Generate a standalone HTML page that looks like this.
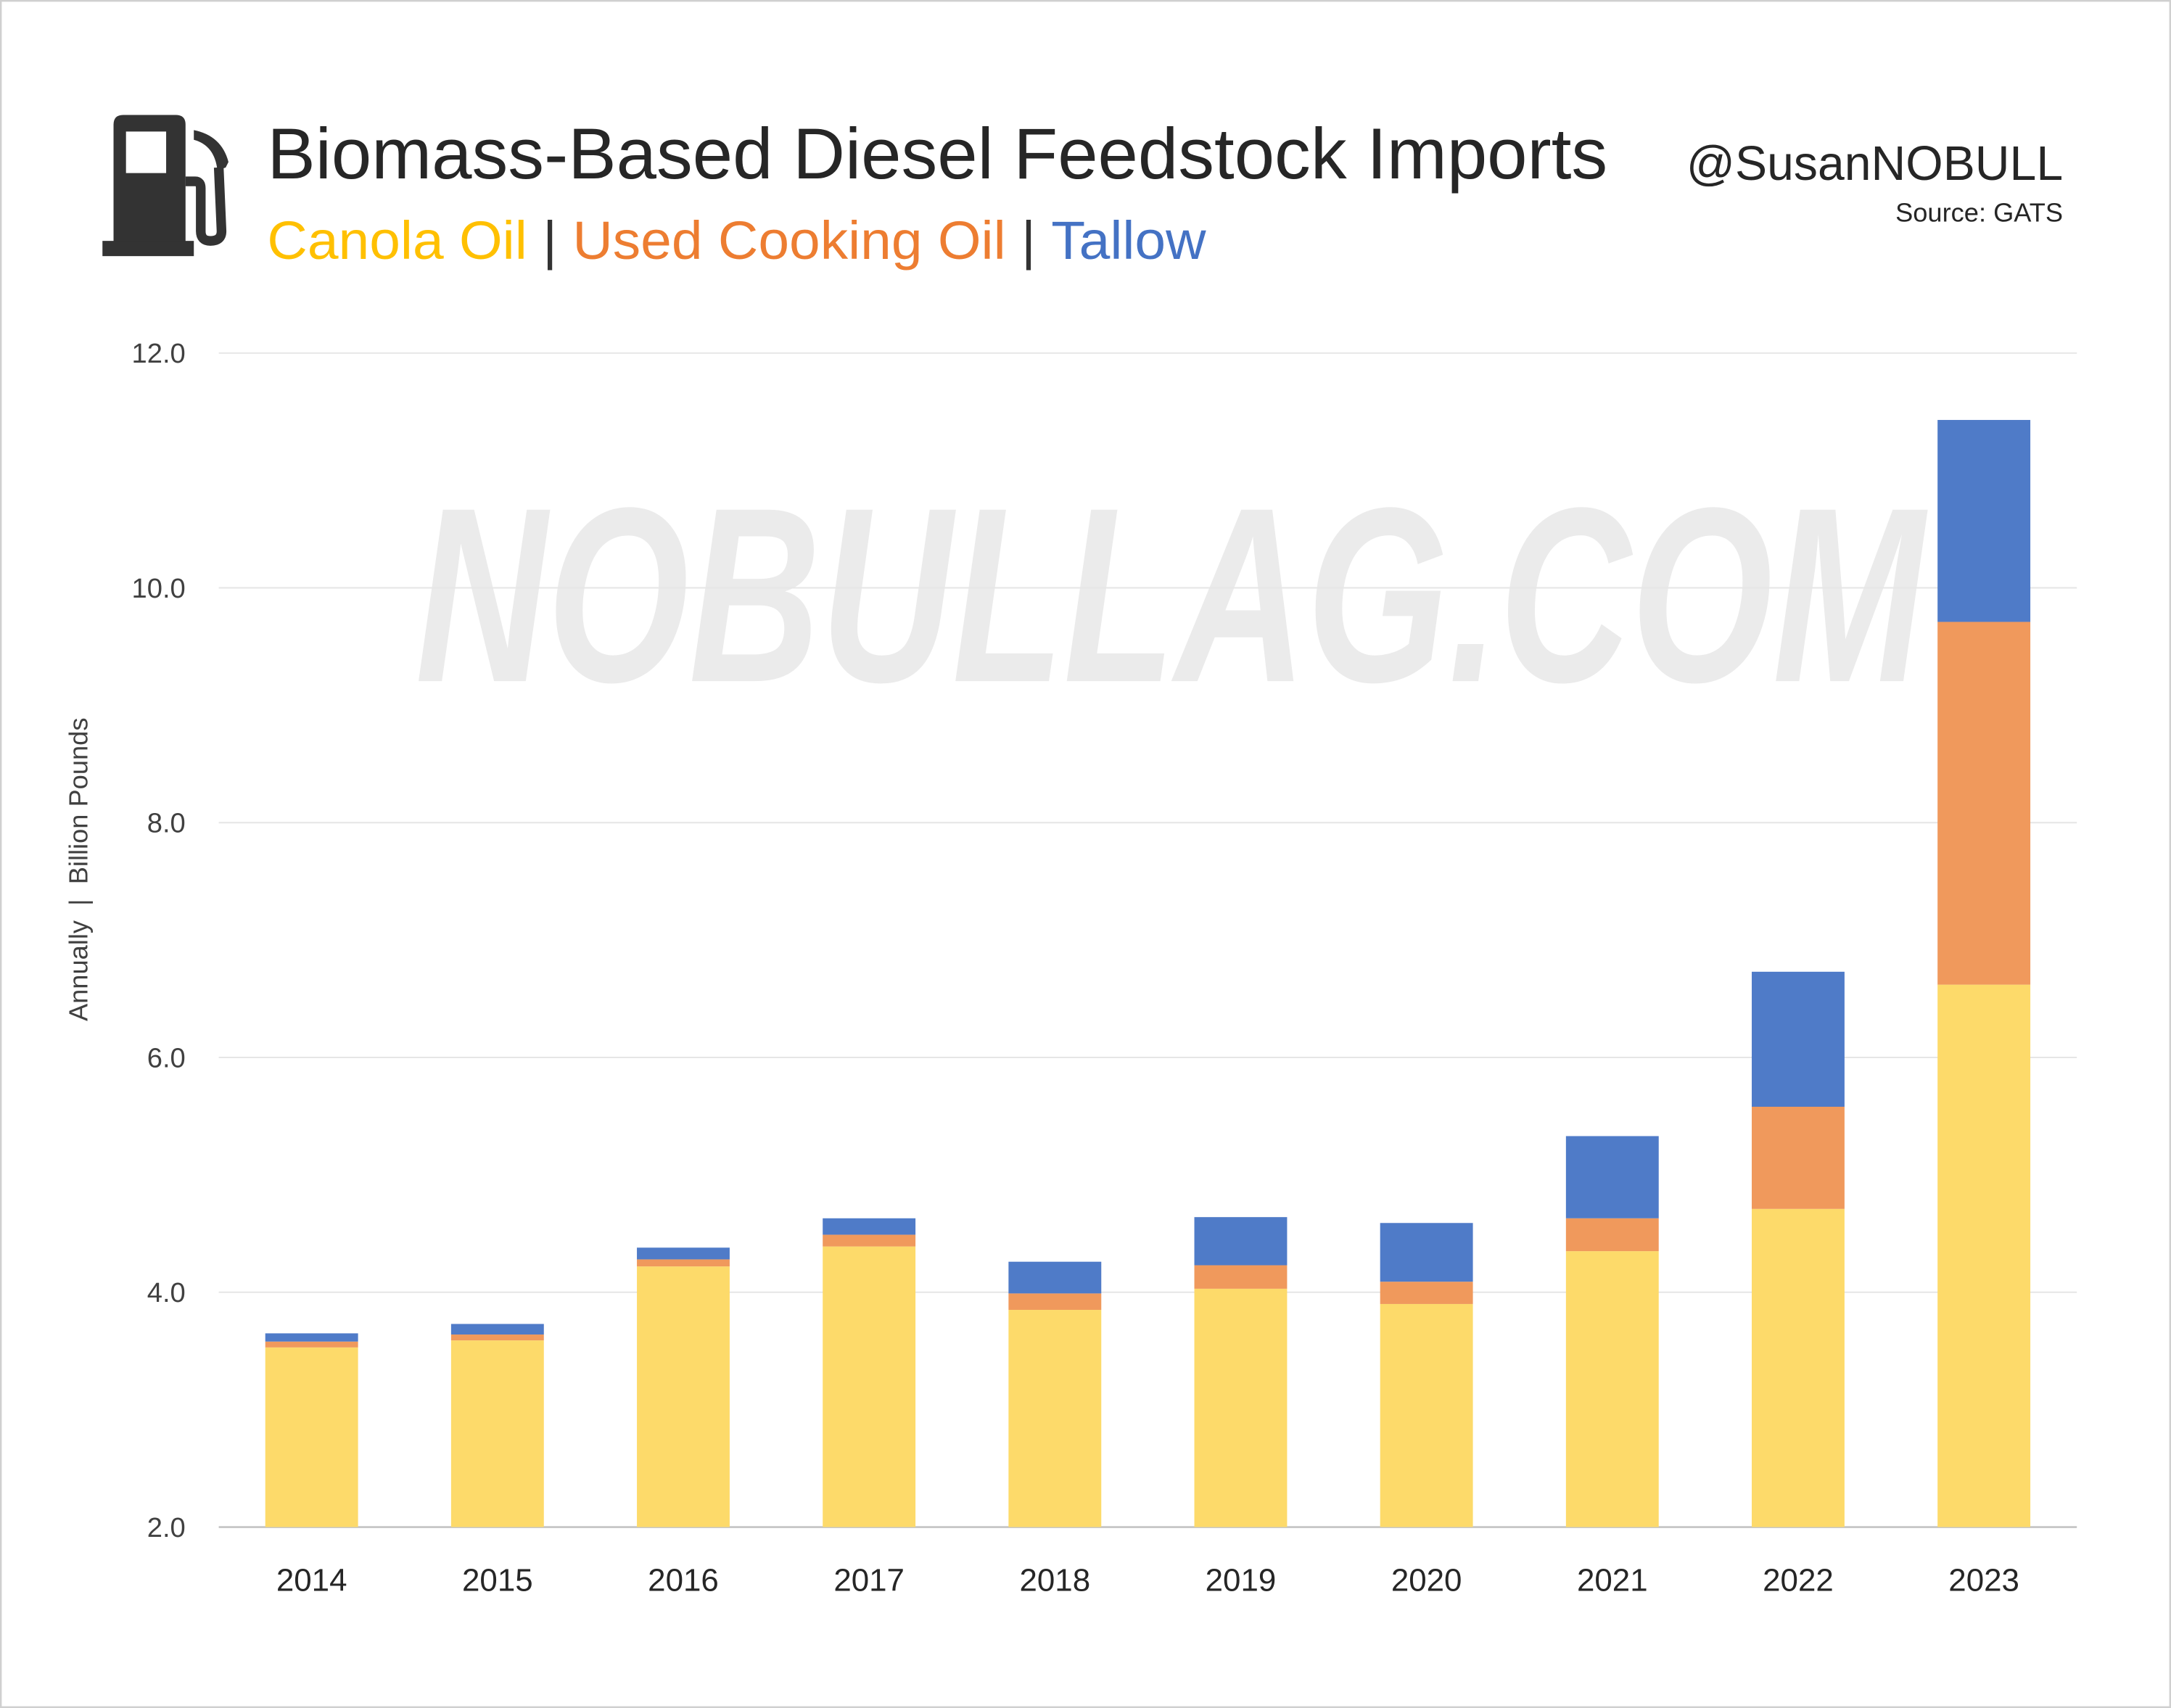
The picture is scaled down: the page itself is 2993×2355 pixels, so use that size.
<!DOCTYPE html>
<html><head><meta charset="utf-8">
<style>
html,body{margin:0;padding:0;background:#fff;}
svg{display:block;}
text{font-family:"Liberation Sans",sans-serif;}
</style></head>
<body>
<svg id="chart" width="2993" height="2355" viewBox="0 0 1568 1233.7" preserveAspectRatio="none" xmlns="http://www.w3.org/2000/svg">
<rect x="0.5" y="0.5" width="1567" height="1232.7" fill="#fff" stroke="#d0d0d0" stroke-width="1.5"/>
<g fill="#333">
  <path d="M82,90 Q82,83 89,83 L127,83 Q134,83 134,90 L134,176 L82,176 Z M91,95 L91,125 L120,125 L120,95 Z" fill-rule="evenodd"/>
  <rect x="74" y="174" width="66" height="11"/>
  <path d="M140,94 Q160,98 165,117 L163,121 L157,123 Q155,105 140,101 Z"/>
  <path d="M134,131 L141,131 Q145,131 145,136 L145,167 Q145,174 152,174 Q160,174 160,167 L158,121" fill="none" stroke="#333" stroke-width="7"/>
</g>
<text x="193" y="129" font-size="52" fill="#262626" textLength="968" lengthAdjust="spacingAndGlyphs">Biomass-Based Diesel Feedstock Imports</text>
<text x="193" y="187" font-size="39" textLength="678" lengthAdjust="spacingAndGlyphs"><tspan fill="#FFC000">Canola Oil</tspan><tspan fill="#333"> | </tspan><tspan fill="#ED7D31">Used Cooking Oil</tspan><tspan fill="#333"> | </tspan><tspan fill="#4472C4">Tallow</tspan></text>
<text x="1490" y="130" font-size="35" fill="#262626" text-anchor="end" textLength="272" lengthAdjust="spacingAndGlyphs">@SusanNOBULL</text>
<text x="1490" y="160" font-size="19" fill="#262626" text-anchor="end">Source: GATS</text>
<text x="300" y="492" font-size="180" font-weight="bold" font-style="italic" fill="#ebebeb" textLength="1090" lengthAdjust="spacingAndGlyphs">NOBULLAG.COM</text>
<text transform="translate(63,628) rotate(-90)" font-size="19" fill="#404040" text-anchor="middle" xml:space="preserve">Annually  |  Billion Pounds</text>
<g id="grid"></g><g id="bars"></g><g id="labels"></g>
</svg>
<script>
const years=["2014","2015","2016","2017","2018","2019","2020","2021","2022","2023"];
const canola=[3.53,3.59,4.22,4.39,3.85,4.03,3.90,4.35,4.71,6.62];
const uco=[0.05,0.05,0.06,0.10,0.14,0.20,0.19,0.28,0.87,3.09];
const tallow=[0.07,0.09,0.10,0.14,0.27,0.41,0.50,0.70,1.15,1.72];
const yTicks=[2,4,6,8,10,12];
const yTickLabels=["2.0","4.0","6.0","8.0","10.0","12.0"];
(function(){
const NS="http://www.w3.org/2000/svg";
const yMin=2,yMax=12,pTop=255,pBot=1103,pLeft=158,pRight=1500;
const y=v=>pBot-(Math.max(v,yMin)-yMin)/(yMax-yMin)*(pBot-pTop);
const step=(pRight-pLeft)/years.length;
const xc=i=>pLeft+step*(i+0.5);
const bw=67;
function mk(t,a,p){const e=document.createElementNS(NS,t);for(const k in a)e.setAttribute(k,a[k]);p.appendChild(e);return e;}
const grid=document.getElementById('grid'),bars=document.getElementById('bars'),lab=document.getElementById('labels');
yTicks.forEach((v,i)=>{
  const l=mk('line',{x1:pLeft,x2:pRight,y1:y(v),y2:y(v),stroke:i===0?'#c8c8c8':'#e6e6e6','stroke-width':i===0?1.5:1},grid);
  
  
  const t=mk('text',{x:134,y:y(v)+7,'font-size':20,fill:'#404040','text-anchor':'end'},lab);
  t.textContent=yTickLabels[i];
  
  
});
const series=[[canola,'#FDDA6A','canola'],[uco,'#F0995C','uco'],[tallow,'#4F7BC8','tallow']];
years.forEach((yr,i)=>{
  let base=0;
  series.forEach(([arr,col,nm])=>{
    const v0=base,v1=base+arr[i];base=v1;
    const r=mk('rect',{x:xc(i)-bw/2,y:y(v1),width:bw,height:Math.max(0,y(v0)-y(v1)),fill:col},bars);
    
    
  });
  const t=mk('text',{x:xc(i),y:1149,'font-size':23,fill:'#262626','text-anchor':'middle'},lab);
  t.textContent=yr;
  
  
});
})();
</script>
</body></html>
